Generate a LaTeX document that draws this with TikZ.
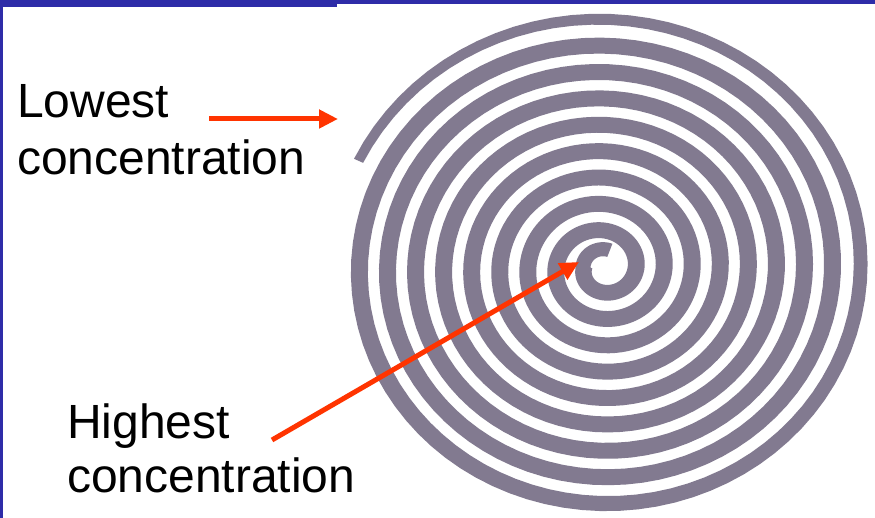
\documentclass[tikz,border=0pt]{standalone}
\usepackage{fontspec}
\setmainfont{Liberation Sans}
\usetikzlibrary{arrows.meta}
\definecolor{frameblue}{RGB}{46,44,168}
\definecolor{spiralgray}{RGB}{130,122,144}
\definecolor{arrowred}{RGB}{255,52,0}
\begin{document}
\begin{tikzpicture}[x=1pt,y=-1pt,
  declare function={sr(\t)=ifthenelse(\t<-180,20,33+0.078*\t);
                    sw(\t)=ifthenelse(\t<-180,15,17-7*max(0,(\t-2750)/288));},
  lbl/.style={font=\fontsize{48}{56}\selectfont, inner sep=0pt, anchor=base west, text=black},
  pointer/.style={draw=arrowred, line width=5pt, -{Triangle[length=19pt,width=18pt]}}]
\useasboundingbox (0,0) rectangle (875,518);
\fill[white] (0,0) rectangle (875,518);
% frame
\fill[frameblue] (0,0) rectangle (337,7);
\fill[frameblue] (337,0) rectangle (875,4);
\fill[frameblue] (0,0) rectangle (2.5,518);
% spiral band
\fill[spiralgray]
  plot[domain=-290:3035, samples=800, variable=\x]
    ({603+(sr(\x)+sw(\x)/2)*cos(\x)}, {268-0.94*(sr(\x)+sw(\x)/2)*sin(\x)})
  -- plot[domain=3035:-290, samples=800, variable=\x]
    ({603+(sr(\x)-sw(\x)/2)*cos(\x)}, {268-0.94*(sr(\x)-sw(\x)/2)*sin(\x)})
  -- cycle;
% labels
\node[lbl] (low1) at (17,118) {Lowest};
\node[lbl] (low2) at (17,175) {concentration};
\node[lbl] (high1) at (67,438) {Highest};
\node[lbl] (high2) at (67,492) {concentration};
% arrows
\coordinate (lowstart) at (209,119);
\coordinate (lowtip) at (338,119);
\coordinate (highstart) at (272,440);
\coordinate (hightip) at (579,262);
\draw[pointer] (lowstart) -- (lowtip);
\draw[pointer] (highstart) -- (hightip);
\end{tikzpicture}
\end{document}
